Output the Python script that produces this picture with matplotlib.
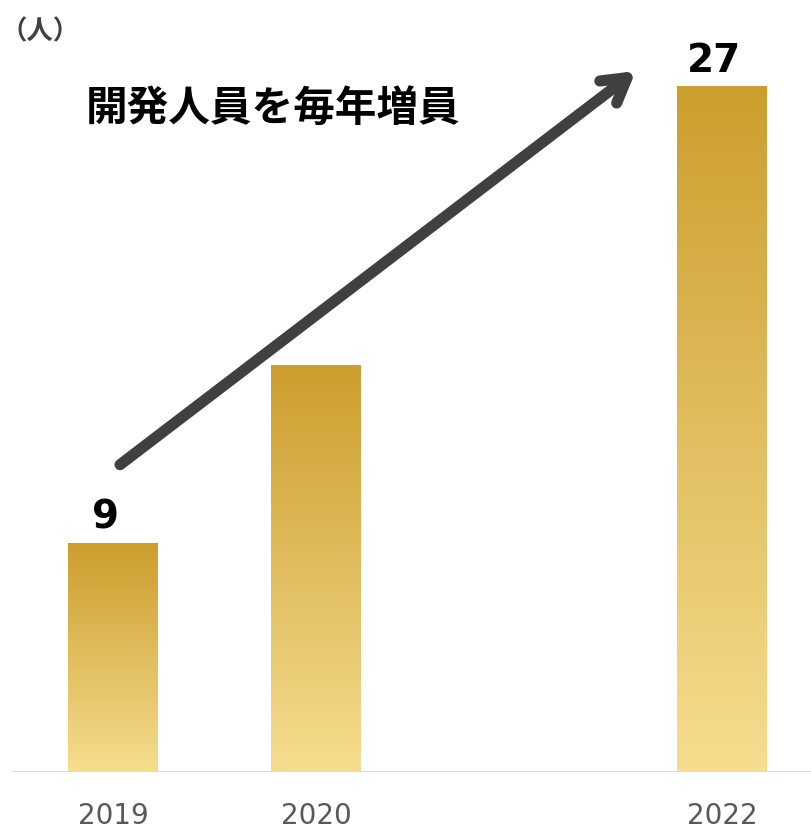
import numpy as np
import matplotlib.pyplot as plt
from matplotlib.colors import LinearSegmentedColormap

plt.rcParams['font.family'] = ['Noto Sans CJK JP', 'DejaVu Sans']

years = ['2019', '2020', '2022']
positions = [0, 1, 3]
staff = [9, 16, 27]
shown_labels = ['9', '', '27']

fig = plt.figure(figsize=(8.12, 8.29), dpi=100)
ax = fig.add_axes([0.015, 0.0676, 0.985, 0.919])
ax.set_xlim(-0.4975, 3.4435)
ax.set_ylim(0, 30)

# gradient bars
cmap = LinearSegmentedColormap.from_list('gold', ['#F6DD8F', '#CC9E2E'])
grad = np.linspace(0, 1, 256).reshape(-1, 1)
width = 0.443
for x, v, lab in zip(positions, staff, shown_labels):
    ax.imshow(grad, cmap=cmap, aspect='auto', origin='lower',
              extent=(x - width / 2, x + width / 2, 0, v), zorder=2)
    if lab:
        ax.text(x - 0.04, v + 0.3, lab, ha='center', va='bottom',
                fontsize=28, fontweight='heavy', color='black',
                family='DejaVu Sans')

ax.axhline(0, color='#D9D9D9', lw=2, zorder=3)

# trend arrow
ax.annotate('', xy=(2.575, 27.6), xytext=(0.034, 12.1),
            arrowprops=dict(arrowstyle='->, head_length=1.7, head_width=1.0',
                            lw=8, color='#404040', capstyle='round',
                            joinstyle='round', shrinkA=0, shrinkB=0),
            zorder=4)

fig.text(0.105, 0.869, '開発人員を毎年増員', fontsize=30, fontweight='bold',
         ha='left', va='center', color='black')
fig.text(0.0, 0.961, '（人）', fontsize=19, fontweight='bold',
         ha='left', va='center', color='#404040')

ax.set_xticks(positions)
ax.set_xticklabels(years, fontsize=20, color='#595959', family='DejaVu Sans')
ax.tick_params(axis='x', length=0, pad=21)
ax.set_yticks([])
for s in ax.spines.values():
    s.set_visible(False)

plt.savefig('out.png', dpi=100)
